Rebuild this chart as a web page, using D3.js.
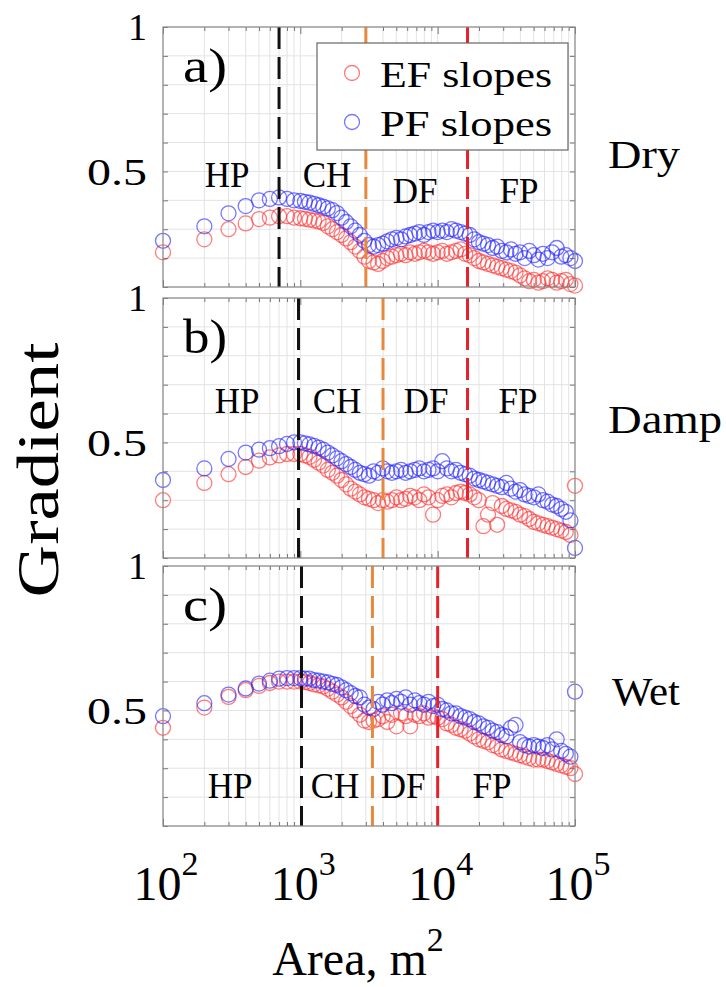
<!DOCTYPE html>
<html><head><meta charset="utf-8">
<script src="https://cdn.jsdelivr.net/npm/d3@7/dist/d3.min.js"></script>
<style>
body{margin:0;background:#fff}
svg text{font-family:"Liberation Serif","Times New Roman",serif;fill:#000}
</style>
</head><body>
<svg id="chart" width="726" height="987"></svg>
<script>
// ---------------- data ----------------
const AREA = [100,200,300,400,500,600,700,800,900,
  1000,1080,1166,1259,1359,1468,1585,1711,1848,1995,2154,2326,2512,2712,2929,3162,3415,3687,3981,4299,4642,5012,5412,5843,6310,6813,7356,7943,8577,9261,10000,
  10800,11660,12590,13590,14680,15850,17110,18480,19950,21540,23260,25120,27120,29290,31620,34150,36870,39810,42990,46420,50120,54120,58430,63100,68130,73560,79430,85770,92610,100000];

const EF_DRY = [.22,.265,.30,.32,.335,.34,.345,.345,.34,
  .338,.336,.333,.33,.327,.322,.31,.30,.29,.28,.268,.255,.24,.225,.205,.19,.185,.18,.19,.20,.205,.21,.215,.21,.22,.215,.22,.225,.22,.215,.22,
  .225,.215,.22,.225,.23,.215,.21,.20,.19,.185,.18,.175,.17,.165,.16,.155,.15,.14,.13,.12,.125,.115,.12,.13,.125,.115,.12,.125,.11,.105];
const PF_DRY = [.26,.31,.355,.38,.40,.405,.41,.405,.40,
  .398,.395,.392,.388,.383,.378,.372,.366,.356,.34,.325,.31,.295,.28,.26,.245,.24,.245,.25,.258,.265,.27,.265,.275,.28,.285,.29,.28,.29,.295,.29,
  .295,.29,.30,.295,.29,.285,.28,.265,.255,.25,.245,.235,.24,.225,.22,.23,.215,.22,.20,.225,.21,.195,.215,.20,.22,.235,.205,.21,.20,.19];

const EF_DAMP = [.30,.36,.39,.415,.437,.448,.455,.46,.46,
  .46,.455,.45,.44,.43,.42,.405,.395,.385,.37,.355,.34,.33,.32,.31,.305,.30,.29,.30,.295,.30,.31,.30,.305,.315,.31,.30,.32,.31,.25,.30,
  .315,.32,.31,.325,.33,.325,.32,.31,.30,.21,.25,.29,.215,.28,.27,.265,.26,.25,.245,.235,.225,.22,.215,.21,.205,.20,.195,.19,.18,.35];
const PF_DAMP = [.37,.41,.443,.465,.475,.48,.487,.495,.50,
  .50,.497,.493,.488,.482,.475,.465,.455,.445,.435,.425,.415,.405,.395,.39,.385,.40,.395,.41,.40,.395,.40,.405,.395,.40,.405,.41,.40,.405,.41,.40,
  .435,.41,.40,.405,.395,.39,.385,.375,.37,.365,.36,.355,.35,.345,.36,.34,.33,.335,.32,.315,.31,.32,.30,.295,.285,.28,.27,.26,.23,.135];

const EF_WET = [.44,.51,.547,.57,.585,.595,.60,.60,.60,
  .60,.598,.595,.59,.587,.583,.575,.565,.555,.545,.53,.515,.50,.485,.465,.46,.465,.47,.48,.46,.485,.445,.49,.48,.445,.485,.48,.49,.475,.48,.475,
  .47,.455,.45,.44,.435,.43,.42,.41,.40,.395,.39,.38,.375,.365,.36,.355,.35,.345,.34,.335,.33,.33,.33,.325,.32,.315,.31,.305,.30,.28];
const PF_WET = [.48,.525,.555,.576,.593,.603,.61,.612,.612,
  .612,.61,.61,.605,.603,.60,.597,.592,.588,.58,.57,.56,.55,.545,.52,.51,.505,.53,.52,.535,.525,.54,.53,.545,.52,.535,.525,.52,.53,.515,.52,
  .505,.50,.49,.49,.48,.475,.47,.46,.455,.445,.44,.43,.425,.415,.41,.44,.45,.39,.38,.375,.38,.375,.37,.38,.365,.40,.36,.35,.34,.565];

const PANEL_TAGS = ["a)","b)","c)"];
const CONDITIONS = ["Dry","Damp","Wet"];
const ZONES = ["HP","CH","DF","FP"];
const BOUNDS_DRY = [700,3000,16500];
const BOUNDS_DAMP = [970,4000,16500];
const BOUNDS_WET = [1020,3350,10000];
const Y_TICKS = [0.5,1];
const Y_TICK_LABELS = ["0.5","1"];
const X_TICKS = [100,1000,10000,100000];
const X_EXP = ["2","3","4","5"];
const SERIES_NAMES = ["EF slopes","PF slopes"];

// ---------------- layout ----------------
const svg = d3.select("#chart");
const L = 163, R = 575, H = 260;
const tops = [27, 298, 566];
const x = d3.scaleLog().domain([100,100000]).range([L,R]);
const RED = "rgba(255,45,45,0.62)", BLUE = "rgba(35,35,255,0.62)";
const lineColors = ["#111","#e8883c","#e5222a"];

const panels = [
  {ef:EF_DRY, pf:PF_DRY, b:BOUNDS_DRY,
   zones:[[227,187],[327,187],[415,203],[519,203]], cond:[644,168,72]},
  {ef:EF_DAMP, pf:PF_DAMP, b:BOUNDS_DAMP,
   zones:[[237,413],[337,413],[426,413],[518,413]], cond:[665,433,114]},
  {ef:EF_WET, pf:PF_WET, b:BOUNDS_WET,
   zones:[[230,798],[335,798],[403,798],[492,798]], cond:[646,705,68]}
];

panels.forEach((p,i)=>{
  const top = tops[i], bot = top + H;
  const y = d3.scaleLinear().domain([0.1,1]).range([bot, top]);
  const g = svg.append("g");

  // grid
  g.append("g").selectAll("line").data(x.ticks()).join("line")
    .attr("x1",d=>x(d)).attr("x2",d=>x(d)).attr("y1",top).attr("y2",bot)
    .attr("stroke","#e3e3e3").attr("stroke-width",1);
  g.append("g").selectAll("line").data(y.ticks(9)).join("line")
    .attr("x1",L).attr("x2",R).attr("y1",d=>y(d)).attr("y2",d=>y(d))
    .attr("stroke","#e3e3e3").attr("stroke-width",1);

  // axes ticks (inward)
  const isMajor = d => Math.abs(Math.log10(d) - Math.round(Math.log10(d))) < 1e-9;
  const ax = (axis, tx, ty) => {
    const a = g.append("g").attr("transform",`translate(${tx},${ty})`).call(axis);
    a.select(".domain").remove();
    a.selectAll("line").attr("stroke","#777");
    a.selectAll("text").remove();
    return a;
  };
  const bAx = ax(d3.axisBottom(x).tickValues(x.ticks()).tickSize(-4), 0, bot);
  bAx.selectAll(".tick line").attr("y2", d=> isMajor(d)? -7 : -4);
  const tAx = ax(d3.axisTop(x).tickValues(x.ticks()).tickSize(-4), 0, top);
  tAx.selectAll(".tick line").attr("y2", d=> isMajor(d)? 7 : 4);
  ax(d3.axisLeft(y).tickValues(y.ticks(9)).tickSize(-5), L, 0);
  ax(d3.axisRight(y).tickValues(y.ticks(9)).tickSize(-5), R, 0);

  // points
  const drawSeries = (vals, col) => g.append("g").selectAll("circle")
    .data(vals.map((v,k)=>[AREA[k],v])).join("circle")
    .attr("cx",d=>x(d[0])).attr("cy",d=>y(d[1])).attr("r",7.5)
    .attr("fill","none").attr("stroke",col).attr("stroke-width",1.3);
  drawSeries(p.ef, RED);
  drawSeries(p.pf, BLUE);

  // boundary dashed lines
  g.append("g").selectAll("line").data(p.b).join("line")
    .attr("x1",d=>x(d)).attr("x2",d=>x(d)).attr("y1",top).attr("y2",bot)
    .attr("stroke",(d,k)=>lineColors[k]).attr("stroke-width",3)
    .attr("stroke-dasharray","22,8");

  // frame
  g.append("rect").attr("x",L).attr("y",top).attr("width",R-L).attr("height",H)
    .attr("fill","none").attr("stroke","#8a8a8a").attr("stroke-width",1.2);

  // y tick labels
  g.append("g").selectAll("text").data(Y_TICKS).join("text")
    .attr("x",147).attr("y",d=>y(d)).attr("dy","0.35em")
    .attr("text-anchor","end").attr("font-size",38)
    .attr("textLength",(d,k)=> Y_TICK_LABELS[k].length>1 ? 60 : null)
    .attr("lengthAdjust","spacingAndGlyphs")
    .text((d,k)=>Y_TICK_LABELS[k]);

  // panel tag
  g.append("text").attr("x",183).attr("y",top+55).attr("font-size",48)
    .attr("textLength",44).attr("lengthAdjust","spacingAndGlyphs").text(PANEL_TAGS[i]);

  // zone labels
  g.append("g").selectAll("text").data(ZONES).join("text")
    .attr("x",(d,k)=>p.zones[k][0]).attr("y",(d,k)=>p.zones[k][1])
    .attr("text-anchor","middle").attr("font-size",35).text(d=>d);

  // condition label
  g.append("text").attr("x",p.cond[0]).attr("y",p.cond[1]).attr("text-anchor","middle")
    .attr("font-size",40).attr("textLength",p.cond[2]).attr("lengthAdjust","spacingAndGlyphs")
    .text(CONDITIONS[i]);
});

// legend (panel a)
const lg = svg.append("g");
lg.append("rect").attr("x",317).attr("y",43).attr("width",251).attr("height",107)
  .attr("fill","#fff").attr("stroke","#666").attr("stroke-width",1.2);
[RED,BLUE].forEach((c,k)=>{
  const yy = 73 + k*49;
  lg.append("circle").attr("cx",352).attr("cy",yy).attr("r",7.5)
    .attr("fill","none").attr("stroke",c).attr("stroke-width",1.3);
  lg.append("text").attr("x",380).attr("y",yy+14).attr("font-size",36)
    .attr("textLength",172).attr("lengthAdjust","spacingAndGlyphs").text(SERIES_NAMES[k]);
});

// x tick labels
const xl = svg.append("g").selectAll("text").data(X_TICKS).join("text")
  .attr("x",d=>x(d)+3).attr("y",900).attr("text-anchor","middle").attr("font-size",48);
xl.append("tspan").text("10");
xl.append("tspan").attr("dy",-25).attr("font-size",34).text((d,k)=>X_EXP[k]);

// x axis title
const xt = svg.append("text").attr("x",358).attr("y",975).attr("text-anchor","middle").attr("font-size",48);
xt.append("tspan").text("Area, m");
xt.append("tspan").attr("dy",-24).attr("font-size",34).text("2");

// y axis title
svg.append("text").attr("transform","translate(58,470) rotate(-90)")
  .attr("text-anchor","middle").attr("font-size",60)
  .attr("textLength",255).attr("lengthAdjust","spacingAndGlyphs").text("Gradient");
</script>
</body></html>
